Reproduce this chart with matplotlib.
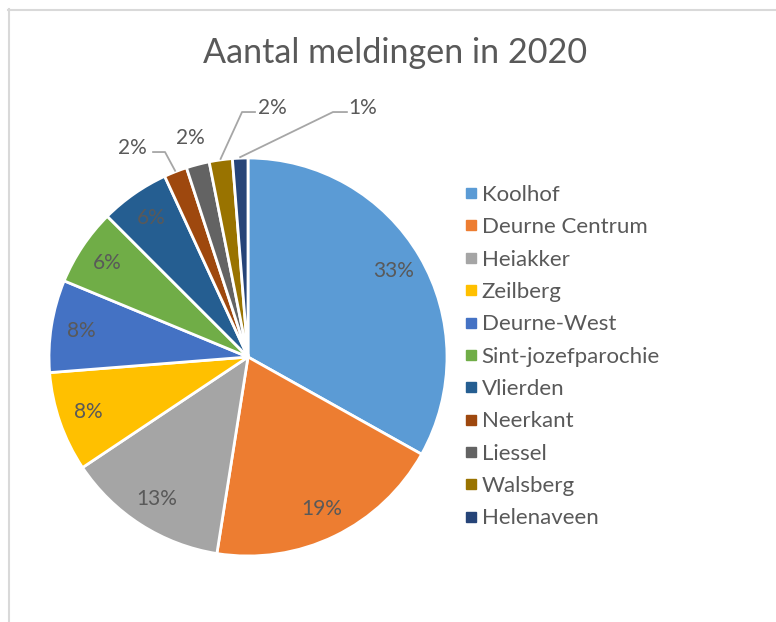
import numpy as np
import matplotlib
matplotlib.use('Agg')
import matplotlib.pyplot as plt
from matplotlib.lines import Line2D

# meldingen per wijk/dorp in 2020 (geschat uit de figuur)
wijken = ['Koolhof', 'Deurne Centrum', 'Heiakker', 'Zeilberg', 'Deurne-West',
          'Sint-jozefparochie', 'Vlierden', 'Neerkant', 'Liessel', 'Walsberg',
          'Helenaveen']
meldingen = [53, 31, 21, 13, 12, 10, 9, 3, 3, 3, 2]
kleuren = ['#5B9BD5', '#ED7D31', '#A5A5A5', '#FFC000', '#4472C4', '#70AD47',
           '#255E91', '#9E480E', '#636363', '#997300', '#264478']

# labels buiten de taart: (label x, label y, leader) in taart-eenheden
buiten = {
    7: ((-0.583, 1.050), [(-0.477, 1.030), (-0.417, 1.030)]),
    8: ((-0.291, 1.100), None),
    9: ((0.121, 1.251), [(0.035, 1.231), (-0.030, 1.231)]),
    10: ((0.578, 1.251), [(0.497, 1.231), (0.427, 1.231)]),
}

TXT = '#595959'
plt.rcParams['font.family'] = ['Lato', 'DejaVu Sans']

W, H = 776, 622
fig = plt.figure(figsize=(W / 100, H / 100), dpi=100)

# kader (Excel grafiekgebied)
fig.add_artist(Line2D([8.5 / W, 8.5 / W], [1 - 9 / H, 0], color='#d9d9d9', lw=1.5))
fig.add_artist(Line2D([8 / W, 1], [1 - 9.5 / H, 1 - 9.5 / H], color='#d9d9d9', lw=1.5))

cx, cy, r = 248, 357, 199
ax = fig.add_axes([(cx - r) / W, (H - cy - r) / H, 2 * r / W, 2 * r / H])

wedges, _ = ax.pie(meldingen, colors=kleuren, startangle=90, counterclock=False,
                   wedgeprops=dict(edgecolor='white', linewidth=2))
ax.set_xlim(-1, 1)
ax.set_ylim(-1, 1)
ax.set_aspect('equal')

totaal = sum(meldingen)
for i, w in enumerate(wedges):
    pct = f'{int(meldingen[i] / totaal * 100 + 0.5)}%'
    mid = np.deg2rad((w.theta1 + w.theta2) / 2)
    if i in buiten:
        (lx, ly), leader = buiten[i]
        ax.text(lx, ly, pct, ha='center', va='center', fontsize=15, color=TXT)
        if leader:
            px, py = 1.005 * np.cos(mid), 1.005 * np.sin(mid)
            xs = [leader[0][0], leader[1][0], px]
            ys = [leader[0][1], leader[1][1], py]
            ax.plot(xs, ys, color='#a6a6a6', lw=1.3, clip_on=False)
    else:
        ax.text(0.85 * np.cos(mid), 0.85 * np.sin(mid), pct, ha='center',
                va='center', fontsize=15, color=TXT)

fig.text(395 / W, 1 - 53 / H, 'Aantal meldingen in 2020', ha='center', va='center',
         fontsize=24.6, color=TXT)

handles = [Line2D([], [], marker='s', linestyle='', markersize=6.5, color=c)
           for c in kleuren]
fig.legend(handles, wijken, loc='upper left', bbox_to_anchor=(455 / W, 1 - 176 / H),
           frameon=False, fontsize=16, labelcolor=TXT, handlelength=0.6,
           handletextpad=0.2, labelspacing=0.556, borderaxespad=0)

fig.savefig('out.png', dpi=100)
